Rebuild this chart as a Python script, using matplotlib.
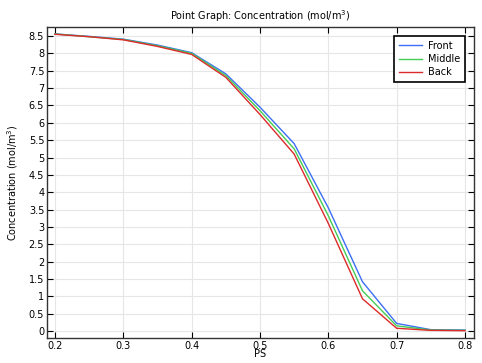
import matplotlib.pyplot as plt

ps = [0.2, 0.25, 0.3, 0.35, 0.4, 0.45, 0.5, 0.55, 0.6, 0.65, 0.7, 0.75, 0.8]
front = [8.56, 8.49, 8.41, 8.24, 8.02, 7.41, 6.45, 5.40, 3.55, 1.42, 0.22, 0.04, 0.03]
middle = [8.56, 8.48, 8.40, 8.22, 8.00, 7.36, 6.35, 5.25, 3.32, 1.16, 0.15, 0.03, 0.02]
back = [8.55, 8.48, 8.39, 8.20, 7.97, 7.31, 6.24, 5.10, 3.10, 0.93, 0.08, 0.02, 0.01]

plt.rcParams['font.size'] = 7

fig = plt.figure(figsize=(4.82, 3.63), dpi=100)
ax = fig.add_axes([47 / 482, 25 / 363, 427 / 482, 311 / 363])

ax.plot(ps, front, color='#3c6ff5', lw=1, label='Front')
ax.plot(ps, middle, color='#45cc55', lw=1, label='Middle')
ax.plot(ps, back, color='#dd2a2a', lw=1, label='Back')

ax.set_xlim(0.1883, 0.8132)
ax.set_ylim(-0.2, 8.76)
ax.set_xticks([0.2, 0.3, 0.4, 0.5, 0.6, 0.7, 0.8])
ax.set_xticklabels(['0.2', '0.3', '0.4', '0.5', '0.6', '0.7', '0.8'])
yt = [i * 0.5 for i in range(18)]
ax.set_yticks(yt)
ax.set_yticklabels(['%g' % v for v in yt])
ax.grid(True, color='#e6e6e6', lw=0.8)
ax.set_axisbelow(True)
ax.tick_params(direction='in', top=True, right=True, length=4, width=0.8, pad=2)
for s in ax.spines.values():
    s.set_linewidth(1)
    s.set_color('#333333')

ax.set_title('Point Graph: Concentration (mol/m$^3$)', fontsize=7, pad=5)
ax.set_xlabel('PS', labelpad=-1)
ax.set_ylabel('Concentration (mol/m$^3$)', labelpad=6)

leg = ax.legend(loc='upper right', fancybox=False, framealpha=1,
                edgecolor='black', fontsize=7, handlelength=2.4,
                handletextpad=0.6, labelspacing=0.35, borderpad=0.5,
                borderaxespad=0.9)
leg.get_frame().set_linewidth(1.2)

fig.savefig('out.png', dpi=100, facecolor='white')
